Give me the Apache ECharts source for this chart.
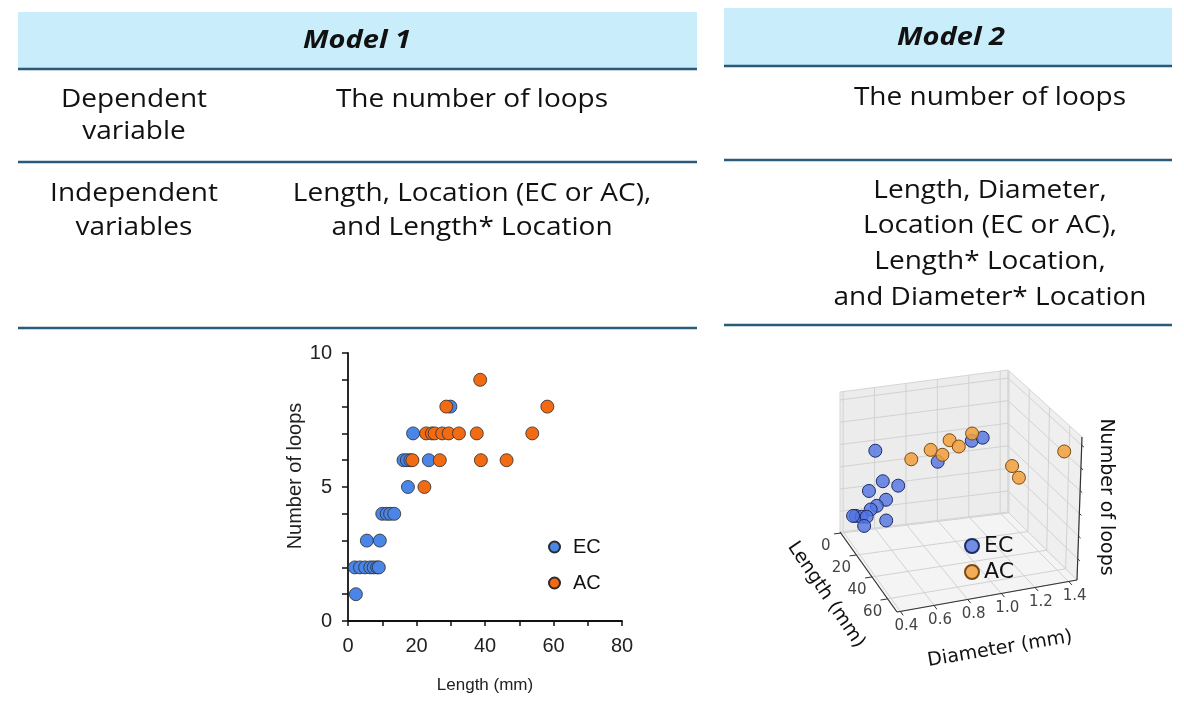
<!DOCTYPE html>
<html>
<head>
<meta charset="utf-8">
<script src="https://cdn.jsdelivr.net/npm/echarts@6/dist/echarts.min.js"></script>
<style>
  html, body { margin: 0; padding: 0; background: #fff; }
  #main { width: 1184px; height: 706px; }
</style>
</head>
<body>
<div id="main"></div>
<script>
// ---- Model 1 scatter (length vs number of loops) ----
const ecLength = [2.3, 2, 3.5, 5, 6.5, 7.5, 8.5, 9, 5.5, 9.3, 10, 11.3, 12.3, 13.5, 17.5, 16.2, 17.2, 18.2, 23.6, 19.0, 29.9];
const ecLoops  = [1,   2, 2,   2, 2,   2,   2,   2, 3,   3,   4,  4,    4,    4,    5,    6,    6,    6,    6,    7,    8];
const acLength = [22.3, 18.8, 26.8, 38.8, 46.3, 22.8, 24.5, 25.3, 27.5, 29.4, 32.4, 37.6, 53.8, 28.7, 58.2, 38.6];
const acLoops  = [5,    6,    6,    6,    6,    7,    7,    7,    7,    7,    7,    7,    7,    8,    8,    9];

// ---- Model 2 3D scatter (length, diameter, number of loops) ----
const ecLen3d   = [21, 20.5, 13.4, 12.2, 9.1, 13.3, 2, 5.9, 7.3, 7.8, 5.6, 1.7, 13.2, 24.3, 24.3, 37.6];
const ecDiam3d  = [0.49, 0.54, 0.49, 0.68, 0.62, 0.54, 0.56, 0.445, 0.475, 0.505, 0.43, 0.52, 0.6, 0.86, 1.07, 1.06];
const ecLoops3d = [7, 5, 4, 4, 3, 3, 2, 2, 2, 2, 2, 1, 2, 6, 7, 8];
const acLen3d   = [33, 27.2, 33.1, 35.5, 27.8, 32.4, 38, 49.6, 61.8];
const acDiam3d  = [0.65, 0.8, 0.84, 0.87, 0.97, 1.025, 1.24, 1.215, 1.41];
const acLoops3d = [7, 7, 7, 8, 7, 8, 6, 6, 8];

// 3D axes
const lenRange3d = [-1, 72];
const diamRange3d = [0.38, 1.45];
const loopRange3d = [0.6, 9.4];
const lenTicks3d = [0, 20, 40, 60];
const diamTicks3d = [0.4, 0.6, 0.8, 1.0, 1.2, 1.4];
const loopGrid3d = [1.9, 3.3, 4.7, 6.1, 7.5, 8.9];

// table text
const model1Rows = [
  { label: ['Dependent', 'variable'], value: ['The number of loops'] },
  { label: ['Independent', 'variables'], value: ['Length, Location (EC or AC),', 'and Length* Location'] }
];
const model2Rows = [
  ['The number of loops'],
  ['Length, Diameter,', 'Location (EC or AC),', 'Length* Location,', 'and Diameter* Location']
];

const TABLE_FONT = '"Open Sans", "Liberation Sans", sans-serif';
const PLOT_FONT = '"Liberation Sans", Arial, sans-serif';
const MPL_FONT = '"DejaVu Sans", sans-serif';
const lineColor = '#2a5a7a';
const headFill = '#c9edfa';

// screen corners of the 3D box, indexed [length][diameter][loops] (0 = min, 1 = max)
const box = [
  [[[840, 532], [840, 392]], [[1008, 512], [1008, 370]]],
  [[[897, 612], [899, 467]], [[1077, 580], [1082, 437]]]
];

function project(L, D, N) {
  const l = (L - lenRange3d[0]) / (lenRange3d[1] - lenRange3d[0]);
  const d = (D - diamRange3d[0]) / (diamRange3d[1] - diamRange3d[0]);
  const n = (N - loopRange3d[0]) / (loopRange3d[1] - loopRange3d[0]);
  let x = 0, y = 0;
  for (let i = 0; i < 2; i++) {
    for (let j = 0; j < 2; j++) {
      for (let k = 0; k < 2; k++) {
        const w = (i ? l : 1 - l) * (j ? d : 1 - d) * (k ? n : 1 - n);
        x += w * box[i][j][k][0];
        y += w * box[i][j][k][1];
      }
    }
  }
  return [x, y];
}

const L0 = lenRange3d[0], L1 = lenRange3d[1];
const D0 = diamRange3d[0], D1 = diamRange3d[1];
const N0 = loopRange3d[0], N1 = loopRange3d[1];

const graphics = [];

function txt(x, y, s, font, opts) {
  graphics.push(Object.assign({
    type: 'text', x: x, y: y, z: 10,
    style: Object.assign({
      text: s, fill: '#111', font: font, align: 'center', verticalAlign: 'middle'
    }, (opts && opts.style) || {})
  }, (opts && opts.el) || {}));
}
function hline(x1, x2, y) {
  graphics.push({
    type: 'line', z: 5, shape: { x1: x1, y1: y, x2: x2, y2: y },
    style: { stroke: lineColor, lineWidth: 2.5 }
  });
}
function seg(p, q, color, width, z) {
  graphics.push({
    type: 'line', z: z || 1, silent: true,
    shape: { x1: p[0], y1: p[1], x2: q[0], y2: q[1] },
    style: { stroke: color, lineWidth: width }
  });
}
function pane(pts, fill) {
  graphics.push({
    type: 'polygon', z: 0, silent: true,
    shape: { points: pts },
    style: { fill: fill, stroke: '#d6d6d6', lineWidth: 1 }
  });
}

// table text is a bit wider than Open Sans
const cellText = { el: { scaleX: 1.12 } };
const headText = { el: { scaleX: 1.16 } };

// ---- table: Model 1 ----
graphics.push({ type: 'rect', z: 1, shape: { x: 18, y: 12, width: 679, height: 57 }, style: { fill: headFill } });
hline(18, 697, 69);
hline(18, 697, 162);
hline(18, 697, 328);
txt(357, 41, 'Model 1', 'italic bold 25px ' + TABLE_FONT, headText);
const m1Y = [[100, 132], [194, 228]];
model1Rows.forEach(function (row, r) {
  row.label.forEach(function (s, i) { txt(134, m1Y[r][i], s, '25px ' + TABLE_FONT, cellText); });
  row.value.forEach(function (s, i) { txt(472, m1Y[r][i], s, '25px ' + TABLE_FONT, cellText); });
});

// ---- table: Model 2 ----
graphics.push({ type: 'rect', z: 1, shape: { x: 724, y: 8, width: 448, height: 58 }, style: { fill: headFill } });
hline(724, 1172, 66);
hline(724, 1172, 160);
hline(724, 1172, 325);
txt(951, 38, 'Model 2', 'italic bold 25px ' + TABLE_FONT, headText);
const m2Y = [[98], [191, 226, 262, 298]];
model2Rows.forEach(function (rows, r) {
  rows.forEach(function (s, i) { txt(990, m2Y[r][i], s, '25px ' + TABLE_FONT, cellText); });
});

// ---- 3D box: panes ----
pane([project(L0, D0, N0), project(L1, D0, N0), project(L1, D1, N0), project(L0, D1, N0)], '#f4f4f4');
pane([project(L0, D0, N0), project(L0, D1, N0), project(L0, D1, N1), project(L0, D0, N1)], '#ececec');
pane([project(L0, D1, N0), project(L1, D1, N0), project(L1, D1, N1), project(L0, D1, N1)], '#efefef');

const gridC = '#d2d2d2';
lenTicks3d.forEach(function (v) {
  seg(project(v, D0, N0), project(v, D1, N0), gridC, 1);
  seg(project(v, D1, N0), project(v, D1, N1), gridC, 1);
});
diamTicks3d.forEach(function (v) {
  seg(project(L0, v, N0), project(L1, v, N0), gridC, 1);
  seg(project(L0, v, N0), project(L0, v, N1), gridC, 1);
});
loopGrid3d.forEach(function (v) {
  seg(project(L0, D0, v), project(L0, D1, v), gridC, 1);
  seg(project(L0, D1, v), project(L1, D1, v), gridC, 1);
});

// axis lines + ticks
const axC = '#333';
seg(project(L0, D0, N0), project(L1, D0, N0), axC, 1.2, 3);
seg(project(L1, D0, N0), project(L1, D1, N0), axC, 1.2, 3);
seg(project(L1, D1, N0), project(L1, D1, N1), axC, 1.2, 3);
const dPad = (D1 - D0) * 0.04, lPad = (L1 - L0) * 0.05;
lenTicks3d.forEach(function (v) {
  seg(project(v, D0, N0), project(v, D0 - dPad, N0), axC, 1, 3);
  const p = project(v, D0, N0);
  txt(p[0] - 15, p[1] + 13, String(v), '15px ' + MPL_FONT, { style: { fill: '#444' } });
});
diamTicks3d.forEach(function (v) {
  seg(project(L1, v, N0), project(L1 + lPad, v, N0), axC, 1, 3);
  const p = project(L1, v, N0);
  txt(p[0] + 6, p[1] + 15, v.toFixed(1), '15px ' + MPL_FONT, { style: { fill: '#444' } });
});
loopGrid3d.forEach(function (v) {
  seg(project(L1, D1, v), project(L1 + lPad * 0.6, D1, v), axC, 1, 3);
});

txt(826, 595, 'Length (mm)', '19px ' + MPL_FONT, { el: { rotation: -56 * Math.PI / 180 } });
txt(1000, 649, 'Diameter (mm)', '19px ' + MPL_FONT, { el: { rotation: 9.5 * Math.PI / 180 } });
txt(1106, 497, 'Number of loops', '19px ' + MPL_FONT, { el: { rotation: -Math.PI / 2 } });

function zip2(a, b) { return a.map(function (v, i) { return [v, b[i]]; }); }
function zip3(a, b, c) { return a.map(function (v, i) { return [v, b[i], c[i]]; }); }

function point3d(fill, stroke) {
  return function (params, api) {
    const p = project(api.value(0), api.value(1), api.value(2));
    return {
      type: 'circle',
      shape: { cx: p[0], cy: p[1], r: 6.5 },
      style: { fill: fill, stroke: stroke, lineWidth: 1 }
    };
  };
}

const ecColor = '#4a86e8', acColor = '#f26b12';
const ec3dFill = 'rgba(80,115,225,0.8)', ac3dFill = 'rgba(242,160,60,0.85)';

const chart = echarts.init(document.getElementById('main'), null, { renderer: 'canvas' });
chart.setOption({
  backgroundColor: '#fff',
  animation: false,
  textStyle: { fontFamily: PLOT_FONT },
  graphic: { elements: graphics },
  grid: { left: 348, top: 353, width: 274, height: 268, containLabel: false },
  xAxis: {
    type: 'value', min: 0, max: 80, interval: 10,
    name: 'Length (mm)', nameLocation: 'middle', nameGap: 56,
    nameTextStyle: { fontSize: 17, color: '#222', fontFamily: PLOT_FONT },
    axisLine: { show: true, lineStyle: { color: '#111', width: 1.8 } },
    axisTick: { show: true, length: 5, lineStyle: { color: '#111', width: 1.5 } },
    axisLabel: {
      fontSize: 20, color: '#222', margin: 15, fontFamily: PLOT_FONT,
      formatter: function (v) { return v % 20 === 0 ? String(v) : ''; }
    },
    splitLine: { show: false }
  },
  yAxis: {
    type: 'value', min: 0, max: 10, interval: 1,
    name: 'Number of loops', nameLocation: 'middle', nameGap: 33, nameRotate: 90,
    nameTextStyle: { fontSize: 20, color: '#222', fontFamily: PLOT_FONT, padding: [0, 0, 0, 22] },
    axisLine: { show: true, lineStyle: { color: '#111', width: 1.8 } },
    axisTick: { show: true, length: 6, lineStyle: { color: '#111', width: 1.5 } },
    axisLabel: {
      fontSize: 20, color: '#222', margin: 16, fontFamily: PLOT_FONT,
      formatter: function (v) { return v % 5 === 0 ? String(v) : ''; }
    },
    splitLine: { show: false }
  },
  legend: [
    {
      data: ['EC', 'AC'], orient: 'vertical', left: 548, top: 537, padding: 0,
      itemWidth: 11, itemHeight: 11, itemGap: 16, icon: 'circle',
      textStyle: { fontSize: 20, color: '#111', fontFamily: PLOT_FONT, padding: [0, 0, 0, 8] }
    },
    {
      data: ['EC 3D', 'AC 3D'], orient: 'vertical', left: 964, top: 535, padding: 0,
      itemWidth: 14, itemHeight: 14, itemGap: 4, icon: 'circle',
      formatter: function (n) { return n.split(' ')[0]; },
      textStyle: { fontSize: 22, color: '#111', fontFamily: MPL_FONT }
    }
  ],
  series: [
    {
      name: 'EC', type: 'scatter', symbolSize: 13,
      itemStyle: { color: ecColor, borderColor: '#2b2b2b', borderWidth: 0.8, opacity: 1 },
      data: zip2(ecLength, ecLoops)
    },
    {
      name: 'AC', type: 'scatter', symbolSize: 13,
      itemStyle: { color: acColor, borderColor: '#2b2b2b', borderWidth: 0.8, opacity: 1 },
      data: zip2(acLength, acLoops)
    },
    {
      name: 'EC 3D', type: 'custom', coordinateSystem: 'none', z: 4,
      itemStyle: { color: ec3dFill, borderColor: '#1d2b66', borderWidth: 1 },
      renderItem: point3d(ec3dFill, '#1d2b66'),
      data: zip3(ecLen3d, ecDiam3d, ecLoops3d)
    },
    {
      name: 'AC 3D', type: 'custom', coordinateSystem: 'none', z: 4,
      itemStyle: { color: ac3dFill, borderColor: '#7a4a12', borderWidth: 1 },
      renderItem: point3d(ac3dFill, '#7a4a12'),
      data: zip3(acLen3d, acDiam3d, acLoops3d)
    }
  ]
});
</script>
</body>
</html>
